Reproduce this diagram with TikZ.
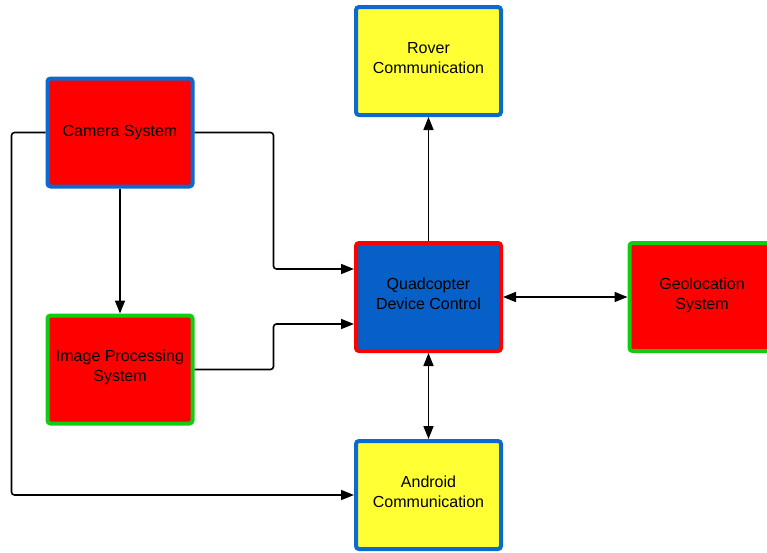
\documentclass[tikz,border=0pt]{standalone}
\usepackage{fontspec}
\setmainfont{Liberation Sans}
\usetikzlibrary{arrows.meta}
\definecolor{edgeblue}{HTML}{0A6AD0}
\definecolor{coreblue}{HTML}{0760C8}
\definecolor{sunyellow}{HTML}{FFFF33}
\definecolor{hotred}{HTML}{FF0000}
\definecolor{leafgreen}{HTML}{11CC11}
\begin{document}
\begin{tikzpicture}[x=1pt,y=-1pt,
  block/.style={rectangle, rounded corners=3pt, line width=4pt,
    minimum width=145pt, minimum height=108pt, inner sep=0pt,
    align=center, font=\fontsize{16}{20}\selectfont},
  twoline/.style={block, text depth=7pt},
  link/.style={line width=1.6pt, rounded corners=3pt, -{Triangle[length=13pt,width=10pt]}},
  both/.style={line width=1.6pt, {Triangle[length=13pt,width=10pt]}-{Triangle[length=13pt,width=10pt]}}]
\useasboundingbox (0,0) rectangle (767,552);
\clip (0,0) rectangle (767,552);

% blocks
\node[twoline, fill=sunyellow, draw=edgeblue] (rover) at (428.5,61) {Rover\\Communication};
\node[block, fill=hotred, draw=edgeblue] (cam) at (120,132.5) {Camera System};
\node[twoline, fill=coreblue, draw=hotred] (quad) at (428.5,297) {Quadcopter\\Device Control};
\node[twoline, fill=hotred, draw=leafgreen] (geo) at (702,297) {Geolocation\\System};
\node[twoline, fill=hotred, draw=leafgreen] (ip) at (120,369.5) {Image Processing\\System};
\node[twoline, fill=sunyellow, draw=edgeblue] (android) at (428.5,495) {Android\\Communication};

% connectors
\draw[link] (cam.east) -- ++(79,0) |- ([yshift=28pt]quad.west);
\draw[link] (ip.east) -- ++(79,0) |- ([yshift=-27pt]quad.west);
\draw[link] (cam.west) -- ++(-34,0) |- (android.west);
\draw[link] (cam.south) -- (ip.north);
\draw[link] (quad.north) -- (rover.south);
\draw[both] (quad.east) -- (geo.west);
\draw[both] (quad.south) -- (android.north);
\end{tikzpicture}
\end{document}
